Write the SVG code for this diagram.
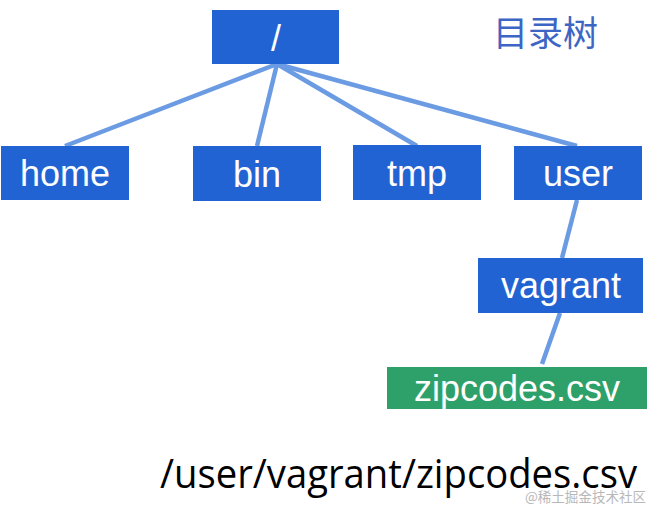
<svg xmlns="http://www.w3.org/2000/svg" width="652" height="509" viewBox="0 0 652 509">
<style>
.box{fill:#2263d3}
.file{fill:#2ea16a}
.lbl{font-family:"Liberation Sans",Arial,sans-serif;font-size:36px;fill:#ffffff;text-anchor:middle}
.conn line{stroke:#6b9be2;stroke-width:4.5;stroke-linecap:butt}
</style>
<rect width="652" height="509" fill="#ffffff"/>
<g id="connectors" class="conn">
<line x1="277" y1="64" x2="65" y2="146"/>
<line x1="277" y1="64" x2="257" y2="146"/>
<line x1="277" y1="64" x2="417" y2="146"/>
<line x1="277" y1="64" x2="577" y2="146"/>
<line x1="577" y1="200" x2="562" y2="258"/>
<line x1="560" y1="313" x2="542" y2="364"/>
</g>
<g id="root"><rect class="box" x="212" y="10" width="127" height="54"/><text class="lbl" x="276" y="51">/</text></g>
<g id="home"><rect class="box" x="1" y="146" width="128" height="54"/><text class="lbl" x="65" y="186">home</text></g>
<g id="bin"><rect class="box" x="193" y="146" width="128" height="55"/><text class="lbl" x="257" y="187">bin</text></g>
<g id="tmp"><rect class="box" x="353" y="145" width="128" height="55"/><text class="lbl" x="417" y="186">tmp</text></g>
<g id="user"><rect class="box" x="514" y="146" width="128" height="54"/><text class="lbl" x="578" y="186">user</text></g>
<g id="vagrant"><rect class="box" x="478" y="258" width="165" height="55"/><text class="lbl" x="561" y="298">vagrant</text></g>
<g id="zipcodes"><rect class="file" x="387" y="367" width="260" height="42"/><text class="lbl" x="517" y="401" fill="#f8fbf0">zipcodes.csv</text></g>
<text x="493" y="46" font-family="'Noto Sans CJK SC',sans-serif" font-size="35" fill="#3d66c4">目录树</text>
<text x="160" y="488" font-family="'Open Sans','Noto Sans',sans-serif" font-size="40" fill="#000000" textLength="477" lengthAdjust="spacingAndGlyphs">/user/vagrant/zipcodes.csv</text>
<text x="525" y="502" font-family="'Noto Sans CJK SC',sans-serif" font-size="14" fill="#b8b8b8" textLength="121" lengthAdjust="spacingAndGlyphs">@稀土掘金技术社区</text>
</svg>
